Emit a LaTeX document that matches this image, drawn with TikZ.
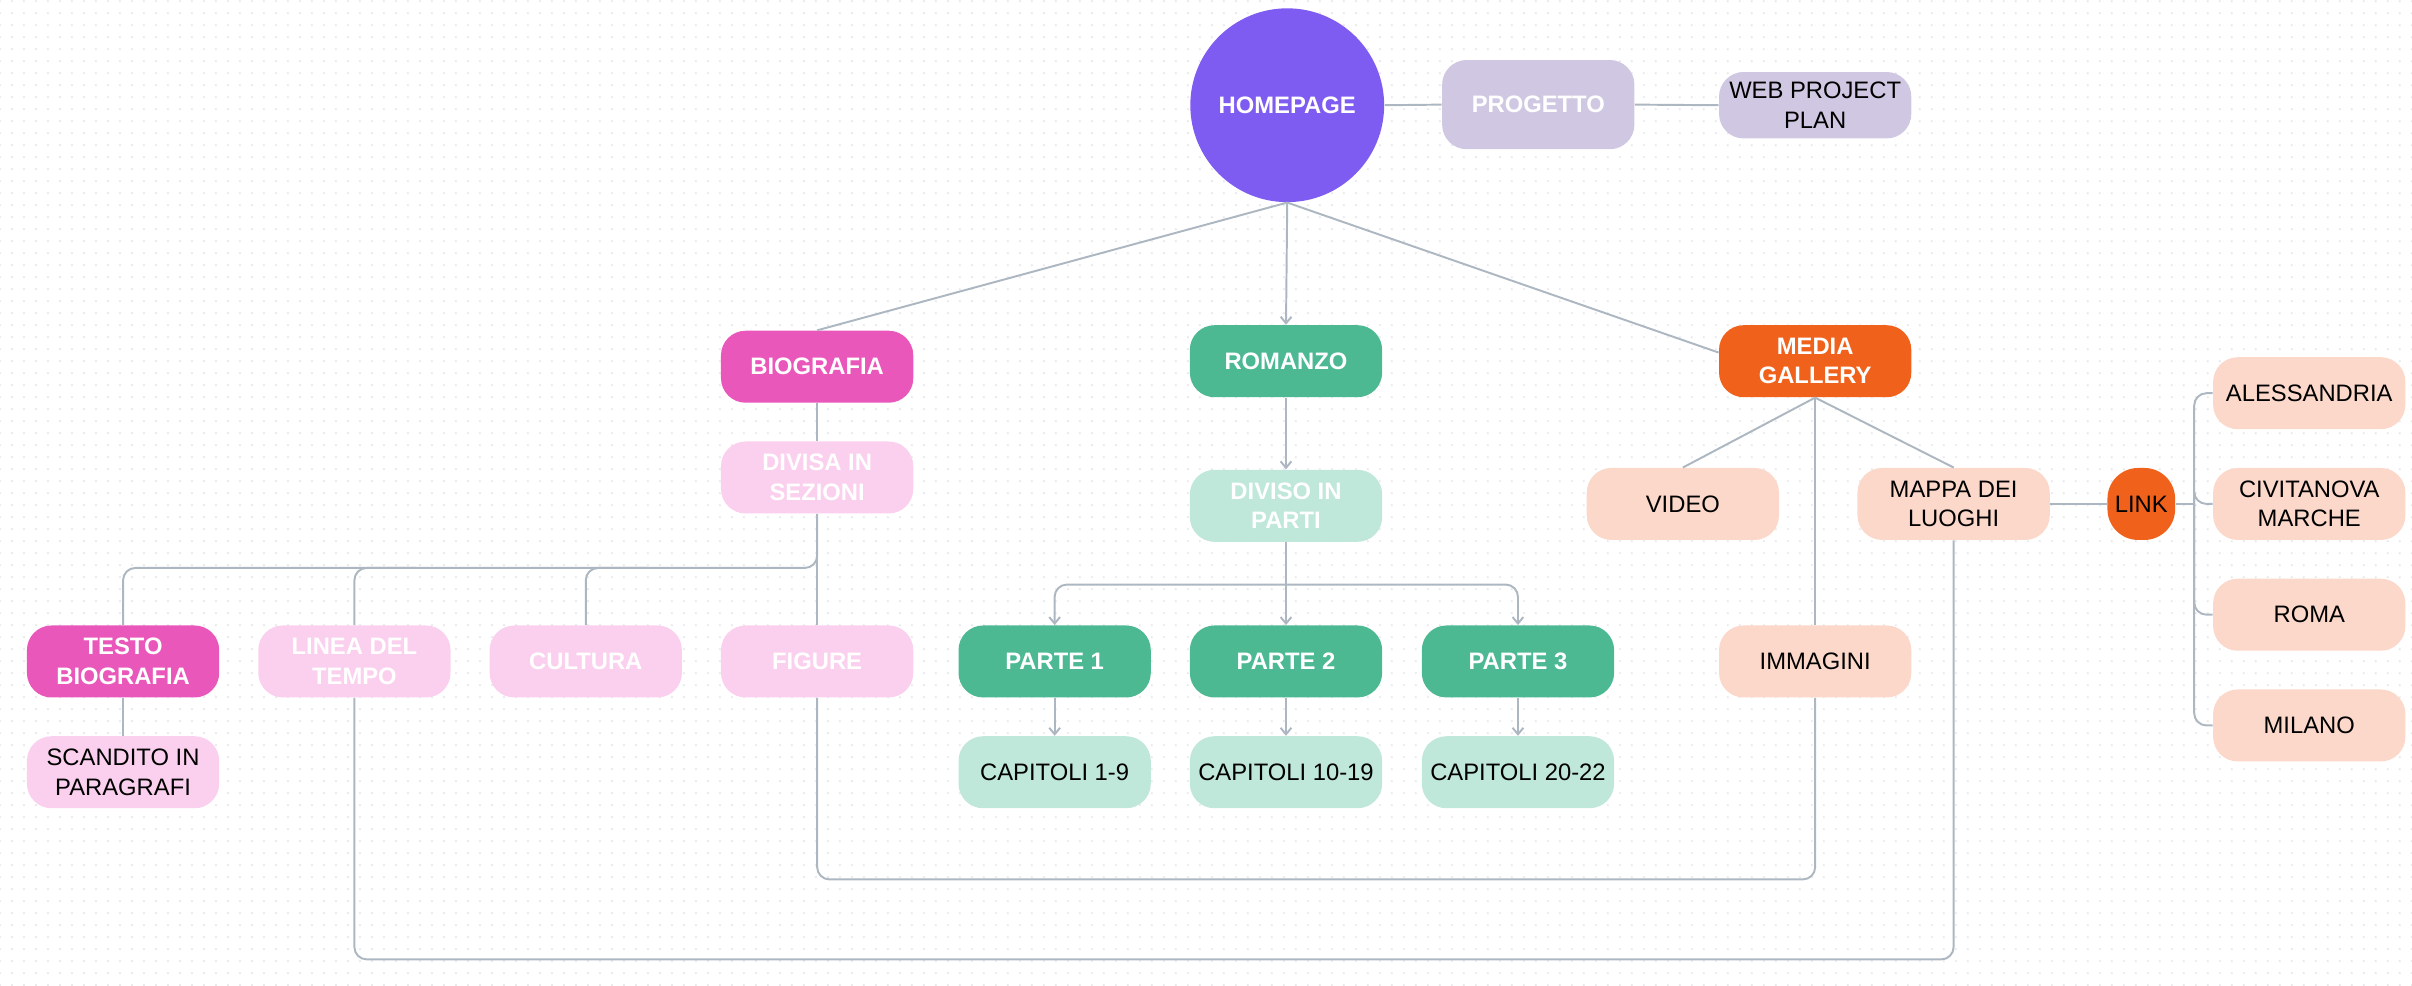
\documentclass[tikz,border=0pt]{standalone}
\usepackage{fontspec}
\setmainfont{Liberation Sans}
\usetikzlibrary{arrows.meta, patterns.meta}

\definecolor{viola}{HTML}{7F5CF1}
\definecolor{lavanda}{HTML}{D0C8E2}
\definecolor{rosa}{HTML}{EA57BB}
\definecolor{rosachiaro}{HTML}{FBD0EE}
\definecolor{verde}{HTML}{4CB993}
\definecolor{verdechiaro}{HTML}{BFE7DA}
\definecolor{arancio}{HTML}{F0611B}
\definecolor{pesca}{HTML}{FBD8CA}
\definecolor{grigiolinea}{HTML}{ADB7C1}
\definecolor{puntini}{HTML}{E6E7EA}

\tikzdeclarepattern{
  name=griglia,
  type=uncolored,
  bounding box={(-0.0975cm,-0.0975cm) and (0.0975cm,0.0975cm)},
  tile size={(0.195cm,0.195cm)},
  code={\fill (0,0) circle (0.55pt);}
}

\tikzset{
  box/.style={rectangle, rounded corners=0.4cm, minimum width=3.125cm, minimum height=1.17cm,
    align=center, inner sep=2pt, font=\fontsize{11}{13.6}\selectfont},
  titolo/.style={box, text=white, font=\fontsize{11}{13.6}\selectfont\bfseries},
  wire/.style={draw=grigiolinea, line width=0.9pt},
  wirearrow/.style={wire, -{Straight Barb[length=3pt,width=5pt]}},
  bus/.style={wire, rounded corners=0.2cm}
}

\begin{document}
\begin{tikzpicture}
    \useasboundingbox (0,0) rectangle (39.2,-16.01);
    \fill[pattern=griglia, pattern color=puntini] (0,0) rectangle (39.2,-16.01);

    % Homepage e progetto
    \node[circle, fill=viola, minimum size=3.15cm, inner sep=0pt, text=white,
          font=\fontsize{11}{13.6}\selectfont\bfseries] (home) at (20.92,-1.71) {HOMEPAGE};
    \node[titolo, fill=lavanda, minimum height=1.45cm] (progetto) at (25.0,-1.7) {PROGETTO};
    \node[box, fill=lavanda, minimum height=1.08cm] (webplan) at (29.5,-1.71) {WEB PROJECT\\PLAN};

    % Sezioni principali
    \node[titolo, fill=rosa] (bio) at (13.28,-5.96) {BIOGRAFIA};
    \node[titolo, fill=verde] (romanzo) at (20.9,-5.87) {ROMANZO};
    \node[titolo, fill=arancio] (media) at (29.5,-5.87) {MEDIA\\GALLERY};

    % Biografia
    \node[titolo, fill=rosachiaro] (divisa) at (13.28,-7.76) {DIVISA IN\\SEZIONI};
    \node[titolo, fill=rosa] (testo) at (2.0,-10.75) {TESTO\\BIOGRAFIA};
    \node[titolo, fill=rosachiaro] (linea) at (5.76,-10.75) {LINEA DEL\\TEMPO};
    \node[titolo, fill=rosachiaro] (cultura) at (9.52,-10.75) {CULTURA};
    \node[titolo, fill=rosachiaro] (figure) at (13.28,-10.75) {FIGURE};
    \node[box, fill=rosachiaro] (scandito) at (2.0,-12.55) {SCANDITO IN\\PARAGRAFI};

    % Romanzo
    \node[titolo, fill=verdechiaro] (diviso) at (20.9,-8.22) {DIVISO IN\\PARTI};
    \foreach \i/\x/\cap in {1/17.14/1-9, 2/20.9/10-19, 3/24.67/20-22} {
        \node[titolo, fill=verde] (parte\i) at (\x,-10.75) {PARTE \i};
        \node[box, fill=verdechiaro] (cap\i) at (\x,-12.55) {CAPITOLI \cap};
    }

    % Media gallery
    \node[box, fill=pesca] (video) at (27.35,-8.19) {VIDEO};
    \node[box, fill=pesca] (mappa) at (31.75,-8.19) {MAPPA DEI\\LUOGHI};
    \node[box, fill=pesca] (immagini) at (29.5,-10.75) {IMMAGINI};
    \node[box, fill=arancio, minimum width=1.1cm, rounded corners=0.5cm, inner sep=0pt] (linknode) at (34.8,-8.19) {LINK};
    \foreach \c/\y/\txt in {alessandria/-6.39/ALESSANDRIA, civitanova/-8.19/CIVITANOVA\\MARCHE,
                            roma/-9.99/ROMA, milano/-11.79/MILANO} {
        \node[box, fill=pesca] (\c) at (37.53,\y) {\txt};
    }

    % Punti di diramazione
    \coordinate (biobus) at (13.28,-9.23);
    \coordinate (partbus) at (20.9,-9.5);
    \coordinate (citybus) at (35.66,-8.19);

    % Collegamenti
    \draw[wire] (home.east) -- (progetto.west);
    \draw[wire] (progetto.east) -- (webplan.west);
    \draw[wire] (home.south) -- (bio.north);
    \draw[wirearrow] (home.south) -- (romanzo.north);
    \draw[wire] (home.south) -- ([yshift=4pt]media.west);

    \draw[wire] (bio.south) -- (divisa.north);
    \draw[bus] (divisa.south) |- (testo.north |- biobus) -- (testo.north);
    \draw[bus] ([xshift=1cm]linea.north |- biobus) -| (linea.north);
    \draw[bus] ([xshift=1cm]cultura.north |- biobus) -| (cultura.north);
    \draw[wire] (divisa.south) -- (figure.north);
    \draw[wire] (testo.south) -- (scandito.north);

    \draw[wirearrow] (romanzo.south) -- (diviso.north);
    \draw[wire] (diviso.south) -- (partbus);
    \foreach \i in {1,2,3} {
        \draw[bus, -{Straight Barb[length=3pt,width=5pt]}] (partbus) -| (parte\i.north);
        \draw[wirearrow] (parte\i.south) -- (cap\i.north);
    }

    \draw[wire] (media.south) -- (video.north);
    \draw[wire] (media.south) -- (immagini.north);
    \draw[wire] (media.south) -- (mappa.north);
    \draw[wire] (mappa.east) -- (linknode.west);
    \draw[wire] (linknode.east) -- (citybus);
    \foreach \c in {alessandria, civitanova, roma, milano} {
        \draw[bus] (citybus) |- (\c.west);
    }

    % Anelli in basso
    \draw[bus] (figure.south) -- ++(0,-2.95) -| (immagini.south);
    \draw[bus] (linea.south) -- ++(0,-4.25) -| (mappa.south);
\end{tikzpicture}
\end{document}
